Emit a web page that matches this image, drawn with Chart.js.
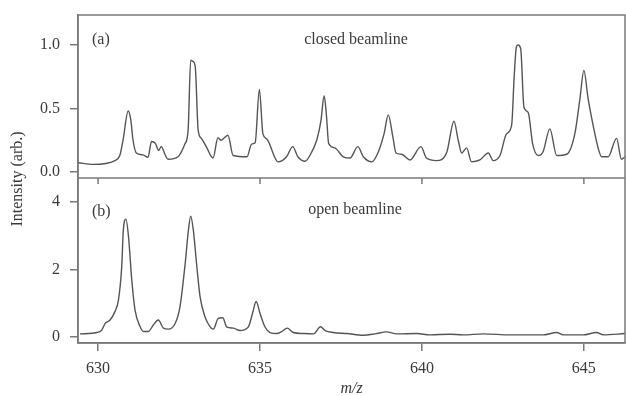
<!DOCTYPE html>
<html><head><meta charset="utf-8">
<script src="https://cdn.jsdelivr.net/npm/chart.js@4/dist/chart.umd.min.js"></script>
<style>html,body{margin:0;padding:0;background:#fff}#wrap{position:relative;width:626px;height:396px}</style>
</head><body><div id="wrap"><canvas id="c" width="626" height="396"></canvas></div>
<script>
const topMz = [629.38,629.85,630.52,630.67,630.77,630.93,631.01,631.08,631.18,631.39,631.54,631.65,631.77,631.87,631.95,632.08,632.16,632.47,632.68,632.78,632.86,632.93,633.0,633.09,633.19,633.34,633.55,633.70,633.80,633.90,634.01,634.17,634.6,634.74,634.85,634.98,635.09,635.21,635.56,635.82,636.01,636.17,636.39,636.54,636.75,636.88,636.98,637.05,637.12,637.31,637.57,637.78,638.02,638.19,638.45,638.64,638.83,638.96,639.10,639.20,639.37,639.63,639.97,640.14,640.45,640.76,640.99,641.12,641.23,641.38,641.53,641.79,642.05,642.20,642.41,642.61,642.77,642.85,642.92,642.97,643.05,643.15,643.28,643.42,643.59,643.74,643.95,644.16,644.47,644.72,644.88,645.0,645.13,645.30,645.45,645.55,645.75,646.01,646.16,646.27];
const topIntensity = [0.073,0.06,0.09,0.13,0.25,0.48,0.41,0.25,0.15,0.135,0.115,0.24,0.225,0.17,0.2,0.13,0.1,0.12,0.22,0.33,0.88,0.87,0.83,0.33,0.265,0.2,0.11,0.27,0.25,0.27,0.29,0.13,0.12,0.22,0.23,0.65,0.3,0.26,0.08,0.12,0.2,0.12,0.085,0.13,0.25,0.4,0.6,0.45,0.225,0.19,0.12,0.11,0.2,0.12,0.08,0.15,0.3,0.45,0.28,0.15,0.14,0.095,0.2,0.11,0.09,0.15,0.4,0.25,0.15,0.19,0.08,0.095,0.15,0.09,0.13,0.3,0.37,0.76,0.99,1.0,0.97,0.51,0.47,0.22,0.13,0.16,0.34,0.13,0.14,0.3,0.58,0.8,0.58,0.35,0.18,0.12,0.12,0.265,0.1,0.12];
const bottomMz = [629.44,629.96,630.11,630.22,630.37,630.52,630.63,630.73,630.78,630.86,630.94,631.04,631.14,631.30,631.40,631.55,631.71,631.86,632.02,632.17,632.38,632.53,632.69,632.79,632.86,632.94,633.05,633.15,633.30,633.46,633.56,633.71,633.85,633.97,634.18,634.38,634.64,634.77,634.88,635.0,635.15,635.31,635.52,635.67,635.84,636.03,636.34,636.65,636.87,637.01,637.26,637.68,638.19,638.55,638.91,639.22,639.84,640.25,640.86,641.27,641.89,642.72,643.74,644.16,644.36,644.98,645.39,645.60,646.27];
const bottomIntensity = [0.09,0.13,0.2,0.4,0.5,0.75,1.1,2.08,3.17,3.49,2.97,1.69,0.8,0.3,0.16,0.16,0.36,0.5,0.26,0.23,0.4,0.9,2.18,3.17,3.58,3.17,2.08,1.19,0.6,0.3,0.23,0.55,0.57,0.3,0.26,0.19,0.3,0.7,1.05,0.7,0.3,0.13,0.1,0.16,0.26,0.13,0.1,0.09,0.3,0.19,0.13,0.1,0.05,0.09,0.15,0.09,0.1,0.06,0.08,0.06,0.09,0.06,0.06,0.13,0.06,0.06,0.13,0.06,0.1];
const xTicks = [630, 635, 640, 645];
const topTicks = [0, 0.5, 1.0];
const bottomTicks = [0, 2, 4];
const panelLabels = ['(a)', '(b)'];
const panelTitles = ['closed beamline', 'open beamline'];
const xTitle = 'm/z';
const yTitle = 'Intensity (arb.)';

const FONT = "'Liberation Serif', 'DejaVu Serif', serif";
const TXT = '#3a3a3a';
const FRAME = '#7a7a7a';
const LINE = '#555555';

function pairs(xs, ys) { return xs.map((x, i) => ({x: x, y: ys[i]})); }
function fitY(s) { s.width = 78; s.paddingTop = 0; s.paddingBottom = 0; }

const decor = {
  id: 'decor',
  afterDraw(chart) {
    const ctx = chart.ctx;
    const a = chart.chartArea;
    const yA = chart.scales.yA, yB = chart.scales.yB, x = chart.scales.x;
    ctx.save();
    ctx.strokeStyle = FRAME;
    ctx.lineWidth = 1.5;
    ctx.strokeRect(a.left, a.top, a.right - a.left, a.bottom - a.top);
    const sep = yA.bottom;
    ctx.beginPath();
    ctx.moveTo(a.left, sep); ctx.lineTo(a.right, sep);
    xTicks.forEach(v => { const px = x.getPixelForValue(v); ctx.moveTo(px, sep); ctx.lineTo(px, sep + 6); });
    ctx.stroke();
    ctx.fillStyle = TXT;
    ctx.font = '16px ' + FONT;
    ctx.textBaseline = 'middle';
    ctx.textAlign = 'left';
    ctx.fillText(panelLabels[0], a.left + 14, yA.top + 25);
    ctx.fillText(panelLabels[1], a.left + 14, yB.top + 34);
    ctx.textAlign = 'center';
    ctx.fillText(panelTitles[0], 356, yA.top + 25);
    ctx.fillText(panelTitles[1], 355, yB.top + 32);
    ctx.translate(18, (a.top + a.bottom) / 2);
    ctx.rotate(-Math.PI / 2);
    ctx.fillText(yTitle, 0, 0);
    ctx.restore();
  }
};

const tickFont = {family: FONT, size: 16};
new Chart(document.getElementById('c'), {
  type: 'line',
  data: {
    datasets: [
      {label: 'closed beamline', data: pairs(topMz, topIntensity), yAxisID: 'yA', borderColor: LINE, borderWidth: 1.4, pointRadius: 0, cubicInterpolationMode: 'monotone', fill: false},
      {label: 'open beamline', data: pairs(bottomMz, bottomIntensity), yAxisID: 'yB', borderColor: LINE, borderWidth: 1.4, pointRadius: 0, cubicInterpolationMode: 'monotone', fill: false}
    ]
  },
  options: {
    responsive: false, animation: false, devicePixelRatio: 1,
    layout: {padding: {top: 15, right: 1, left: 0, bottom: 0}},
    plugins: {legend: {display: false}, tooltip: {enabled: false}},
    scales: {
      x: {
        type: 'linear', min: 629.38, max: 646.27,
        afterBuildTicks: s => { s.ticks = xTicks.map(v => ({value: v})); },
        afterFit: s => { s.height = 53; },
        ticks: {color: TXT, font: tickFont, padding: 8, maxRotation: 0, autoSkip: false, callback: v => String(v)},
        grid: {drawOnChartArea: false, tickLength: 8, color: FRAME, lineWidth: 1.5},
        border: {color: FRAME, width: 1.5},
        title: {display: true, text: xTitle, color: TXT, font: {family: FONT, size: 16, style: 'italic'}, padding: {top: 0, bottom: -2}}
      },
      yB: {
        type: 'linear', position: 'left', stack: 'panels', stackWeight: 165, min: -0.18, max: 4.71,
        afterBuildTicks: s => { s.ticks = bottomTicks.map(v => ({value: v})); },
        afterFit: fitY,
        ticks: {color: TXT, font: tickFont, padding: 10, callback: v => String(v)},
        grid: {drawOnChartArea: false, tickLength: 8, color: FRAME, lineWidth: 1.5},
        border: {color: FRAME, width: 1.5}
      },
      yA: {
        type: 'linear', position: 'left', stack: 'panels', stackWeight: 163, min: -0.047, max: 1.236,
        afterBuildTicks: s => { s.ticks = topTicks.map(v => ({value: v})); },
        afterFit: fitY,
        ticks: {color: TXT, font: tickFont, padding: 10, callback: v => Number(v).toFixed(1)},
        grid: {drawOnChartArea: false, tickLength: 8, color: FRAME, lineWidth: 1.5},
        border: {color: FRAME, width: 1.5}
      }
    }
  },
  plugins: [decor]
});
</script></body></html>
